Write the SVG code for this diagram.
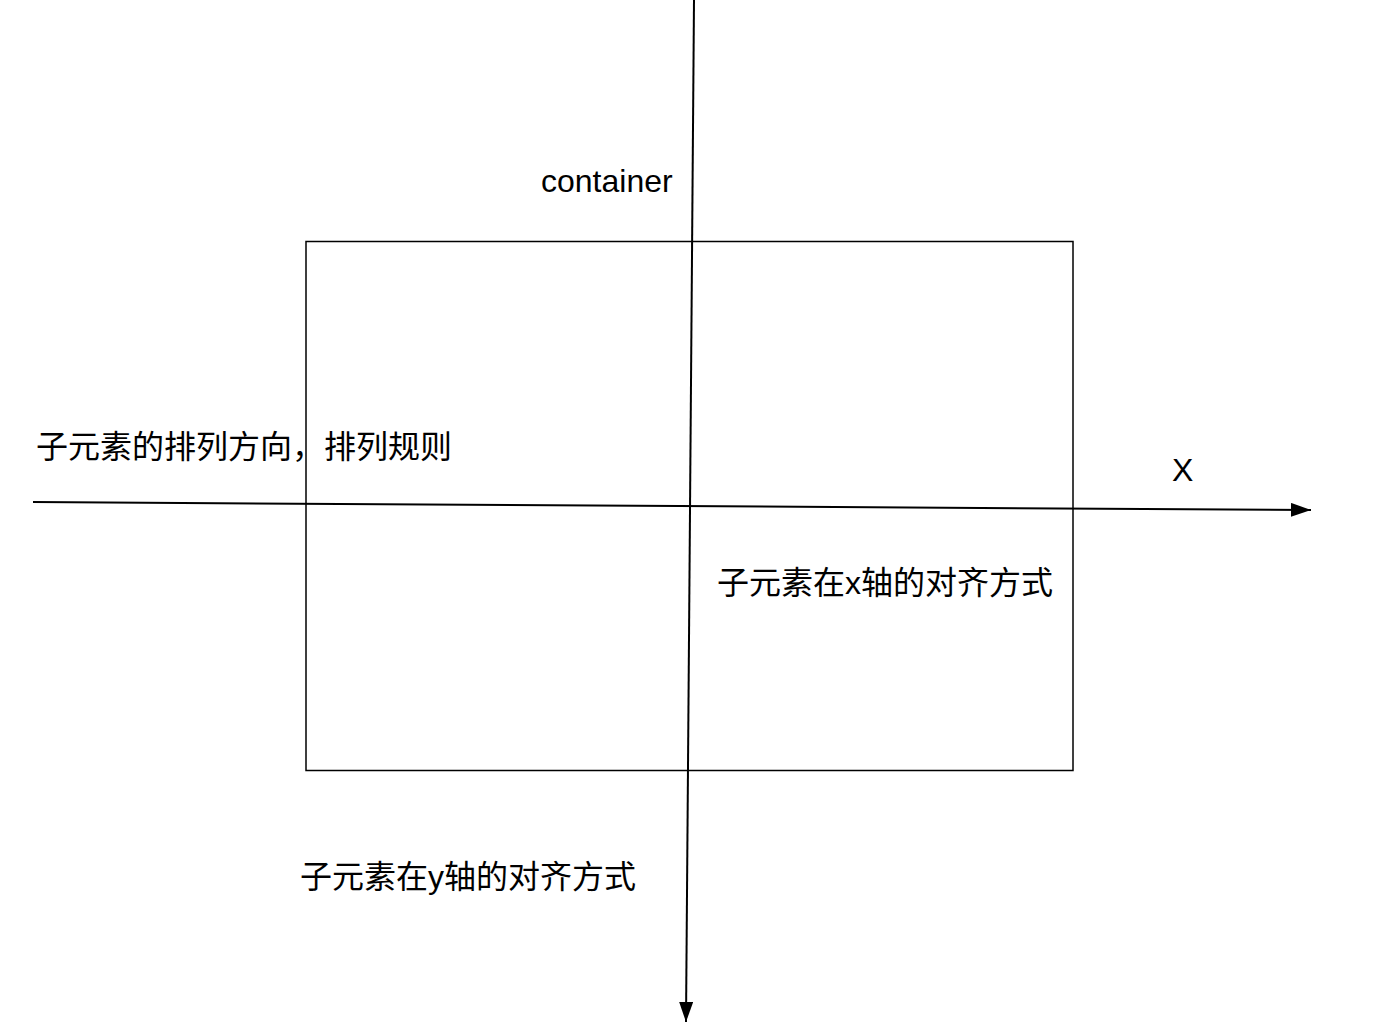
<svg xmlns="http://www.w3.org/2000/svg" width="1384" height="1036" viewBox="0 0 1384 1036">
<style>
.cjk{font-family:"Liberation Sans","Noto Sans CJK SC",sans-serif;font-size:32px;fill:#000}
.lat{font-family:"Liberation Sans",Arial,sans-serif;font-size:32px;fill:#000}
.ln{stroke:#000;stroke-width:2;fill:none}
</style>
<defs>
<marker id="arr" viewBox="0 0 20 14" refX="20" refY="7" markerWidth="20" markerHeight="14" markerUnits="userSpaceOnUse" orient="auto">
<path d="M0,0 L20,7 L0,14 Z" fill="#000"/>
</marker>
</defs>
<rect width="1384" height="1036" fill="#fff"/>
<g id="container">
<rect x="306" y="241.5" width="767" height="529" fill="none" stroke="#000" stroke-width="1.5"/>
<text class="lat" x="541" y="192">container</text>
</g>
<g id="connectors">
<line class="ln" x1="33" y1="502" x2="1311" y2="510" marker-end="url(#arr)"/>
<line class="ln" x1="694" y1="0" x2="686" y2="1022" marker-end="url(#arr)"/>
</g>
<g id="label-main">
<text class="cjk" x="36" y="458">子元素的排列方向，排列规则</text>
</g>
<g id="label-x">
<text class="lat" x="1172" y="481">X</text>
</g>
<g id="label-xalign">
<text class="cjk" x="717" y="594">子元素在x轴的对齐方式</text>
</g>
<g id="label-yalign">
<text class="cjk" x="300" y="888">子元素在y轴的对齐方式</text>
</g>
</svg>
